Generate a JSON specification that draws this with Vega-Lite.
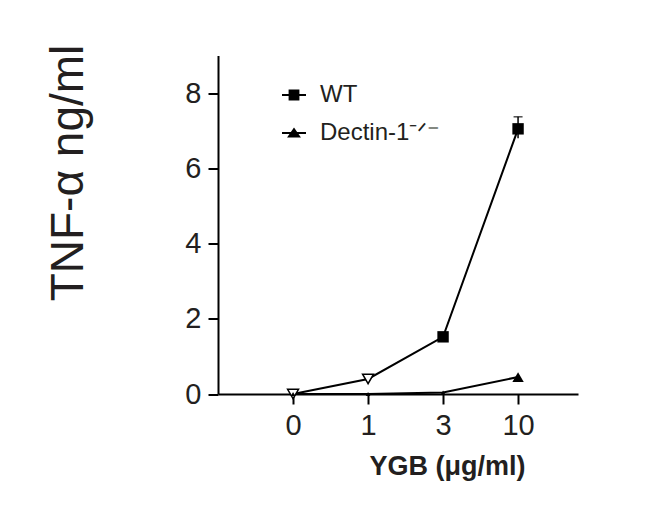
{
  "$schema": "https://vega.github.io/schema/vega-lite/v6.json",
  "width": 360,
  "height": 338.5,
  "autosize": {"type": "none"},
  "padding": {"left": 218, "top": 55.5, "right": 76, "bottom": 129},
  "background": "white",
  "config": {"view": {"stroke": null}, "font": "Liberation Sans"},
  "data": {
    "values": [
      {"dose": "0", "series": "WT", "tnf": 0.0},
      {"dose": "1", "series": "WT", "tnf": 0.4},
      {"dose": "3", "series": "WT", "tnf": 1.52},
      {"dose": "10", "series": "WT", "tnf": 7.05, "lo": 6.8, "hi": 7.37},
      {"dose": "0", "series": "Dectin-1", "tnf": 0.0},
      {"dose": "1", "series": "Dectin-1", "tnf": 0.0},
      {"dose": "3", "series": "Dectin-1", "tnf": 0.04},
      {"dose": "10", "series": "Dectin-1", "tnf": 0.45}
    ]
  },
  "encoding": {
    "x": {
      "field": "dose",
      "type": "ordinal",
      "sort": ["0", "1", "3", "10"],
      "scale": {"type": "point", "padding": 0.9, "align": 0.556},
      "axis": {
        "title": "YGB (μg/ml)",
        "labelAngle": 0,
        "grid": false,
        "domainColor": "black",
        "domainWidth": 2,
        "tickColor": "black",
        "tickWidth": 2,
        "tickSize": 10,
        "labelFont": "Liberation Sans",
        "labelFontSize": 29,
        "labelColor": "#231f20",
        "labelPadding": 7,
        "titleFont": "Liberation Sans",
        "titleFontSize": 27,
        "titleFontWeight": "bold",
        "titleColor": "#231f20",
        "titleX": 229,
        "titleY": 80,
        "titleAlign": "center",
        "titleBaseline": "alphabetic"
      }
    },
    "y": {
      "field": "tnf",
      "type": "quantitative",
      "scale": {"domain": [0, 9], "nice": false, "zero": true},
      "axis": {
        "title": "TNF-α ng/ml",
        "values": [0, 2, 4, 6, 8],
        "grid": false,
        "domainColor": "black",
        "domainWidth": 2,
        "tickColor": "black",
        "tickWidth": 2,
        "tickSize": 10,
        "labelFont": "Liberation Sans",
        "labelFontSize": 29,
        "labelColor": "#231f20",
        "labelPadding": 7,
        "titleFont": "Liberation Sans",
        "titleFontSize": 46,
        "titleFontWeight": "normal",
        "titleColor": "#231f20",
        "titleAngle": -90,
        "titleX": -150,
        "titleY": 117,
        "titleAlign": "center",
        "titleBaseline": "middle"
      }
    }
  },
  "layer": [
    {
      "mark": {"type": "line", "color": "black", "strokeWidth": 2},
      "encoding": {"detail": {"field": "series"}}
    },
    {
      "transform": [{"filter": "isValid(datum.hi)"}],
      "mark": {"type": "rule", "color": "black", "strokeWidth": 1.5},
      "encoding": {
        "y": {"field": "lo", "type": "quantitative", "title": "TNF-α ng/ml"},
        "y2": {"field": "hi"}
      }
    },
    {
      "transform": [{"filter": "isValid(datum.hi)"}],
      "mark": {"type": "tick", "orient": "horizontal", "size": 9, "thickness": 1.5, "color": "black"},
      "encoding": {
        "y": {"field": "hi", "type": "quantitative", "title": "TNF-α ng/ml"}
      }
    },
    {
      "transform": [{"filter": "datum.series === 'WT' && (datum.dose === '3' || datum.dose === '10')"}],
      "mark": {"type": "point", "shape": "square", "filled": true, "color": "black", "size": 130, "opacity": 1}
    },
    {
      "transform": [{"filter": "datum.series === 'WT' && (datum.dose === '0' || datum.dose === '1')"}],
      "mark": {"type": "point", "shape": "triangle-down", "filled": true, "fill": "white", "stroke": "black", "strokeWidth": 1.5, "size": 120, "opacity": 1}
    },
    {
      "transform": [{"filter": "datum.series === 'Dectin-1' && datum.dose === '10'"}],
      "mark": {"type": "point", "shape": "triangle-up", "filled": true, "color": "black", "size": 130, "opacity": 1}
    },
    {
      "transform": [{"filter": "datum.series === 'Dectin-1' && datum.dose !== '10'"}],
      "mark": {"type": "point", "shape": "triangle-up", "filled": true, "color": "black", "size": 22, "opacity": 1}
    },
    {
      "transform": [{"filter": "false"}],
      "mark": {"type": "point", "filled": true, "color": "black", "opacity": 1},
      "encoding": {
        "shape": {
          "field": "series",
          "type": "nominal",
          "scale": {
            "domain": ["WT", "Dectin-1"],
            "range": [
              "M-1,-0.08H1V0.08H-1ZM-0.45,-0.45H0.45V0.45H-0.45Z",
              "M-1,-0.08H1V0.08H-1ZM-0.58,0.38L0,-0.45L0.58,0.38Z"
            ]
          },
          "legend": {
            "orient": "none",
            "legendX": 64,
            "legendY": 27.5,
            "padding": 0,
            "title": null,
            "labelExpr": "datum.label === 'Dectin-1' ? 'Dectin-1⁻ᐟ⁻' : datum.label",
            "labelFont": "Liberation Sans",
            "labelFontSize": 24,
            "labelColor": "#231f20",
            "labelOffset": 14,
            "symbolSize": 576,
            "symbolFillColor": "black",
            "symbolStrokeWidth": 0,
            "symbolOpacity": 1,
            "rowPadding": 14
          }
        }
      }
    }
  ]
}
